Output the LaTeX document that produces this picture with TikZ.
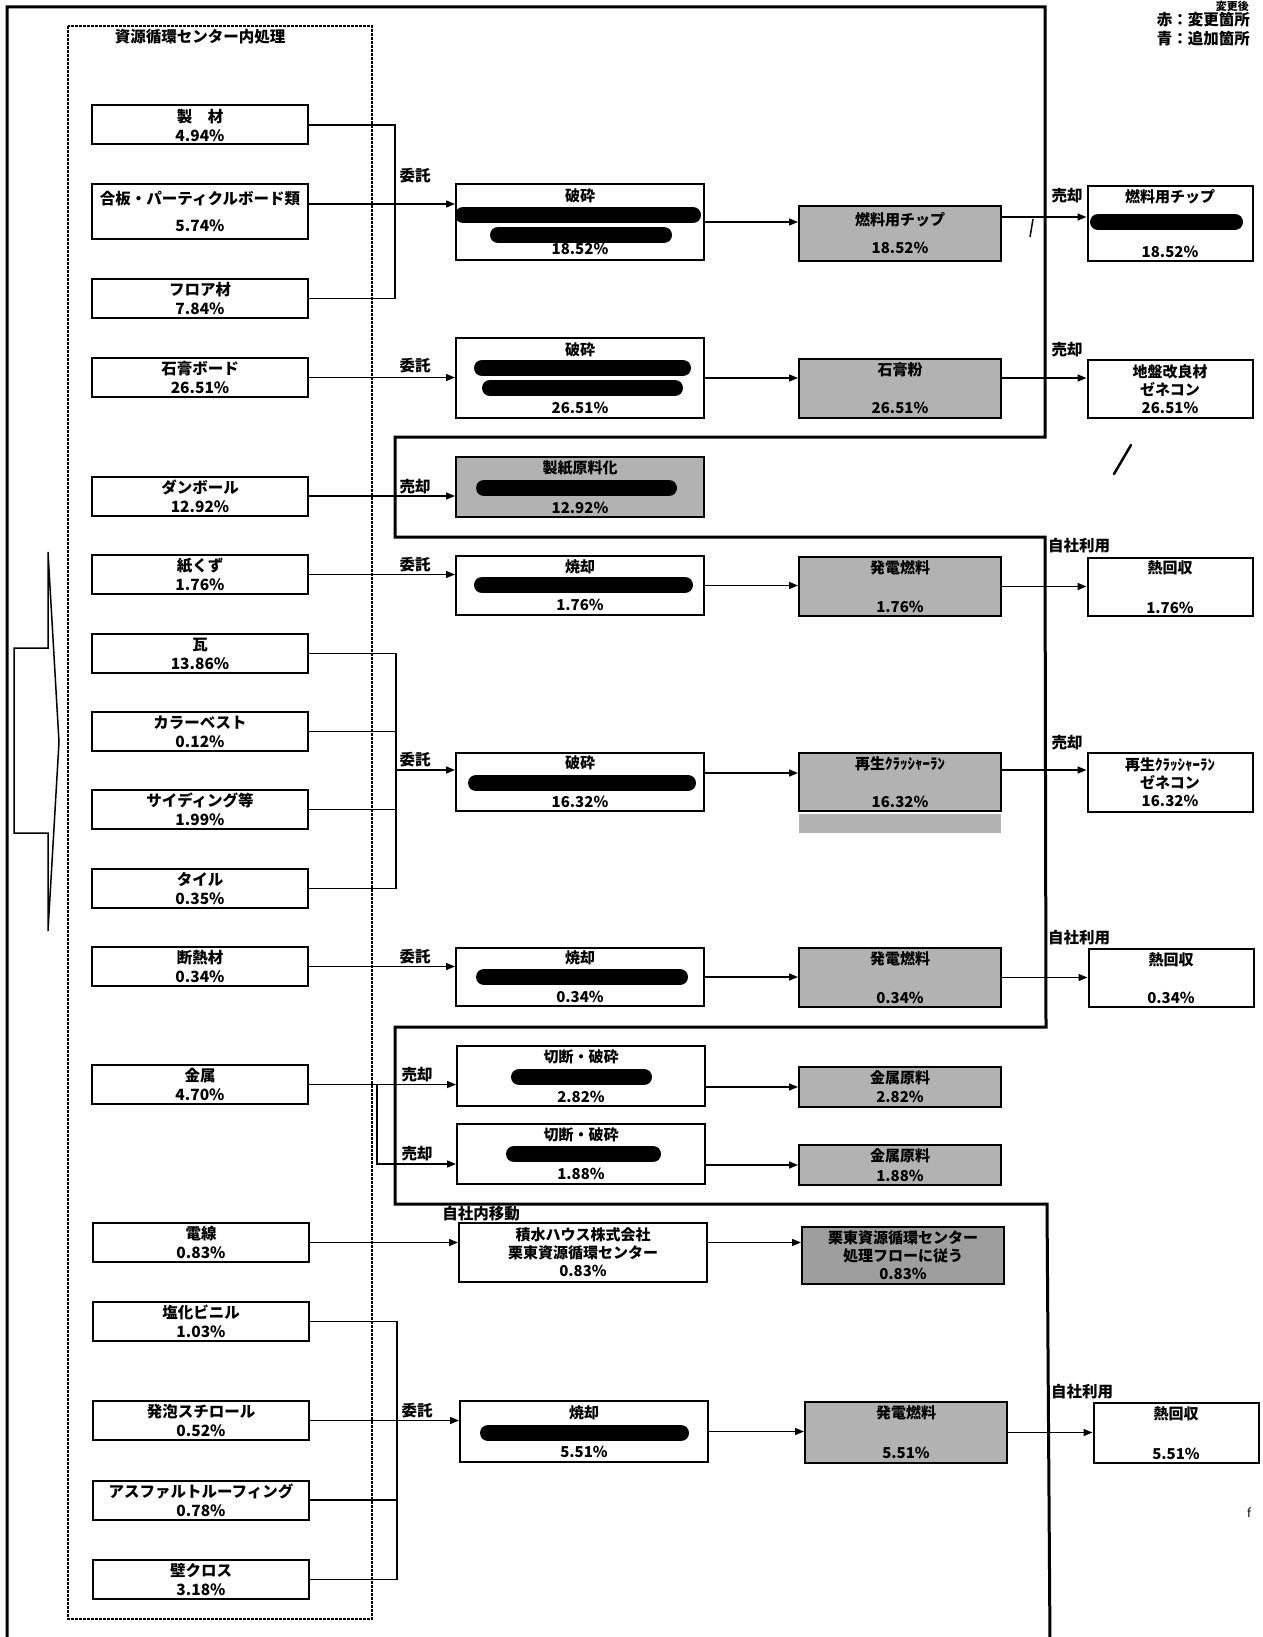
\documentclass[tikz,border=0pt]{standalone}
\usepackage{fontspec}
\setmainfont{Noto Sans CJK JP}
\usepackage{tikz}
\usetikzlibrary{positioning,calc,arrows.meta}
\definecolor{tone}{gray}{0.70}
\definecolor{tonedark}{gray}{0.62}

\begin{document}
\begin{tikzpicture}[x=1pt,y=-1pt,
    src/.style={rectangle,draw,line width=2pt,minimum width=216pt,minimum height=39pt,inner sep=0pt,align=center,font=\fontsize{15.5}{19}\selectfont\bfseries},
    proc/.style={rectangle,draw,line width=2pt,minimum width=248pt,inner sep=0pt,align=center,font=\fontsize{15}{18}\selectfont\bfseries},
    prod/.style={proc,fill=tone,minimum width=202pt},
    dest/.style={proc,minimum width=165pt},
    lab/.style={inner sep=0pt,font=\fontsize{15.5}{18}\selectfont\bfseries},
    link/.style={line width=1.5pt},
    arr/.style={link,-{Triangle[length=9pt,width=7pt]}},
    blot/.style={line width=16pt,line cap=round},
    frame/.style={line width=3pt}]

\useasboundingbox (0,0) rectangle (1262,1637);

\draw[frame] (7,1645) -- (7,7) -- (1045,7) -- (1045,437) -- (395,437) -- (395,537) -- (1045,537) -- (1046,1027) -- (395,1027) -- (395,1204) -- (1047,1204) -- (1050,1645);
\draw[line width=1.6pt,dash pattern=on 3pt off 1pt] (68,26) rectangle (372,1619);
\draw[line width=1.5pt] (14,648) -- (48,648) -- (48,552) -- (59,742) -- (48,931) -- (48,833) -- (14,833) -- cycle;

\node[lab] (title) at (200,37) {資源循環センター内処理};

\node[src] (seizai) at (200,125) {製　材\\4.94\%};
\node[src,minimum height=55pt] (gohan) at (200,211.5) {合板・パーティクルボード類\\[8pt]5.74\%};
\node[src] (floor) at (200,298.5) {フロア材\\7.84\%};
\node[src] (sekko) at (200,377.5) {石膏ボード\\26.51\%};
\node[src] (danbo) at (200,496) {ダンボール\\12.92\%};
\node[src] (kami) at (200,574.5) {紙くず\\1.76\%};
\node[src] (kawara) at (200,653.5) {瓦\\13.86\%};
\node[src] (color) at (200,731.5) {カラーベスト\\0.12\%};
\node[src] (siding) at (200,809.5) {サイディング等\\1.99\%};
\node[src] (tile) at (200,888.5) {タイル\\0.35\%};
\node[src] (dannetsu) at (200,966.5) {断熱材\\0.34\%};
\node[src] (kinzoku) at (200,1084.5) {金属\\4.70\%};
\node[src] (densen) at (201,1242.5) {電線\\0.83\%};
\node[src] (enbi) at (201,1321.5) {塩化ビニル\\1.03\%};
\node[src] (happo) at (201,1420.5) {発泡スチロール\\0.52\%};
\node[src] (asphalt) at (201,1500) {アスファルトルーフィング\\0.78\%};
\node[src] (kabe) at (201,1579.5) {壁クロス\\3.18\%};

\node[proc,minimum height=76pt] (hasai1) at (580,222) {破砕\\[35pt]18.52\%};
\node[proc,minimum height=80pt] (hasai2) at (580,378) {破砕\\[40pt]26.51\%};
\node[proc,fill=tone,minimum height=60pt] (seishi) at (580,487) {製紙原料化\\[22pt]12.92\%};
\node[proc,minimum height=59pt] (shokyaku1) at (580,585.5) {焼却\\[20pt]1.76\%};
\node[proc,minimum height=58pt] (hasai3) at (580,782) {破砕\\[21pt]16.32\%};
\node[proc,minimum height=58pt] (shokyaku2) at (580,977) {焼却\\[21pt]0.34\%};
\node[proc,minimum height=60pt] (setsu1) at (581,1076) {切断・破砕\\[22pt]2.82\%};
\node[proc,minimum height=60pt] (setsu2) at (581,1154) {切断・破砕\\[21pt]1.88\%};
\node[proc,minimum height=59pt] (sekisui) at (583,1252.5) {積水ハウス株式会社\\栗東資源循環センター\\0.83\%};
\node[proc,minimum height=61pt] (shokyaku3) at (584,1431.5) {焼却\\[21pt]5.51\%};

\node[prod,minimum height=55pt] (chip) at (900,233.5) {燃料用チップ\\[10pt]18.52\%};
\node[prod,minimum height=59pt] (sekkoko) at (900,388.5) {石膏粉\\[20pt]26.51\%};
\node[prod,minimum height=59pt] (hatsu1) at (900,586.5) {発電燃料\\[21pt]1.76\%};
\node[prod,minimum height=58pt] (crusher) at (900,782) {再生ｸﾗｯｼｬｰﾗﾝ\\[20pt]16.32\%};
\node[fill=tone,minimum width=202pt,minimum height=19pt,inner sep=0pt,below=2pt of crusher] (band) {};
\node[prod,minimum height=59pt] (hatsu2) at (900,977.5) {発電燃料\\[21pt]0.34\%};
\node[prod,minimum height=40pt] (genryo1) at (900,1087) {金属原料\\[1pt]2.82\%};
\node[prod,minimum height=40pt] (genryo2) at (900,1165) {金属原料\\[2pt]1.88\%};
\node[prod,fill=tonedark,minimum height=57pt] (rittou) at (903,1255.5) {栗東資源循環センター\\処理フローに従う\\0.83\%};
\node[prod,minimum height=61pt] (hatsu3) at (906,1432.5) {発電燃料\\[22pt]5.51\%};

\node[dest,minimum height=75pt] (chip2) at (1170,223.5) {燃料用チップ\\[37pt]18.52\%};
\node[dest,minimum height=58pt] (jiban) at (1170,389) {地盤改良材\\ゼネコン\\26.51\%};
\node[dest,minimum height=58pt] (netsu1) at (1170,587) {熱回収\\[22pt]1.76\%};
\node[dest,minimum height=59pt] (crusher2) at (1170,782.5) {再生ｸﾗｯｼｬｰﾗﾝ\\ゼネコン\\16.32\%};
\node[dest,minimum height=58pt] (netsu2) at (1171,978) {熱回収\\[20pt]0.34\%};
\node[dest,minimum height=60pt] (netsu3) at (1176,1433) {熱回収\\[22pt]5.51\%};

\draw[blot] (463,215) -- (693,215);
\draw[blot] (498,235) -- (664,235);
\draw[blot] (1098,222) -- (1235,222);
\draw[blot] (482,368) -- (683,368);
\draw[blot] (490,388) -- (675,388);
\draw[blot] (484,488) -- (669,488);
\draw[blot] (482,585) -- (685,585);
\draw[blot] (476,783) -- (688,783);
\draw[blot] (484,977) -- (680,977);
\draw[blot] (519,1077) -- (644,1077);
\draw[blot] (514,1154) -- (653,1154);
\draw[blot] (488,1433) -- (681,1433);

\coordinate (b1) at (395,204);
\coordinate (b2) at (396,770);
\coordinate (b3) at (377,1164);
\coordinate (b4) at (397,1420.5);
\coordinate (r1) at (1000,217);
\coordinate (r5) at (700,773);

\draw[link] (seizai.east) -| (b1) |- (floor.east);
\draw[arr] (gohan.east |- b1) -- (hasai1.west |- b1);
\draw[arr] (sekko.east) -- (hasai2.west |- sekko.east);
\draw[arr] (danbo.east) -- (seishi.west |- danbo.east);
\draw[arr] (kami.east) -- (shokyaku1.west |- kami.east);
\draw[link] (kawara.east) -| (b2) |- (tile.east);
\draw[link] (color.east) -- (color.east -| b2);
\draw[link] (siding.east) -- (siding.east -| b2);
\draw[arr] (b2) -- (hasai3.west |- b2);
\draw[arr] (dannetsu.east) -- (shokyaku2.west |- dannetsu.east);
\draw[arr] (kinzoku.east) -- (setsu1.west |- kinzoku.east);
\draw[arr] (kinzoku.east -| b3) |- (setsu2.west |- b3);
\draw[arr] (densen.east) -- (sekisui.west |- densen.east);
\draw[link] (enbi.east) -| (b4) |- (kabe.east);
\draw[link] (asphalt.east) -- (asphalt.east -| b4);
\draw[arr] (happo.east) -- (shokyaku3.west |- happo.east);

\draw[arr] (hasai1.east) -- (chip.west |- hasai1.east);
\draw[arr] (hasai2.east) -- (sekkoko.west |- hasai2.east);
\draw[arr] (shokyaku1.east) -- (hatsu1.west |- shokyaku1.east);
\draw[arr] (hasai3.east |- r5) -- (crusher.west |- r5);
\draw[arr] (shokyaku2.east) -- (hatsu2.west |- shokyaku2.east);
\draw[arr] (setsu1.east |- genryo1.west) -- (genryo1.west);
\draw[arr] (setsu2.east |- genryo2.west) -- (genryo2.west);
\draw[arr] (sekisui.east |- densen.east) -- (rittou.west |- densen.east);
\draw[arr] (shokyaku3.east) -- (hatsu3.west |- shokyaku3.east);

\draw[arr] (chip.east |- r1) -- (chip2.west |- r1);
\draw[arr] (sekkoko.east |- hasai2.east) -- (jiban.west |- hasai2.east);
\draw[arr] (hatsu1.east) -- (netsu1.west |- hatsu1.east);
\draw[arr] (crusher.east |- b2) -- (crusher2.west |- b2);
\draw[arr] (hatsu2.east) -- (netsu2.west |- hatsu2.east);
\draw[arr] (hatsu3.east) -- (netsu3.west |- hatsu3.east);

\node[lab] (itaku1) at (415,176) {委託};
\node[lab] (itaku2) at (415,366) {委託};
\node[lab] (baikyaku1) at (415,487) {売却};
\node[lab] (itaku3) at (415,565) {委託};
\node[lab] (itaku4) at (415,760) {委託};
\node[lab] (itaku5) at (415,957) {委託};
\node[lab] (baikyaku2) at (417,1075) {売却};
\node[lab] (baikyaku3) at (417,1154) {売却};
\node[lab] (idou) at (481,1214) {自社内移動};
\node[lab] (itaku6) at (417,1411) {委託};

\node[lab] (baikyaku4) at (1067,196) {売却};
\node[lab] (baikyaku5) at (1067,350) {売却};
\node[lab] (jisha1) at (1079,546) {自社利用};
\node[lab] (baikyaku6) at (1067,743) {売却};
\node[lab] (jisha2) at (1079,938) {自社利用};
\node[lab] (jisha3) at (1082,1392) {自社利用};

\node[lab,anchor=east,font=\fontsize{11}{12}\selectfont\bfseries] (leg0) at (1249,6) {変更後};
\node[lab,anchor=east] (leg1) at (1250,20) {赤：変更箇所};
\node[lab,anchor=east] (leg2) at (1250,39) {青：追加箇所};

\draw[line width=1.5pt] (1033,219) -- (1030,237);
\draw[line width=2.5pt,line cap=round] (1131,445) -- (1114,474);
\node[font=\fontsize{12}{12}\selectfont] (fmark) at (1249,1513) {f};

\end{tikzpicture}
\end{document}
